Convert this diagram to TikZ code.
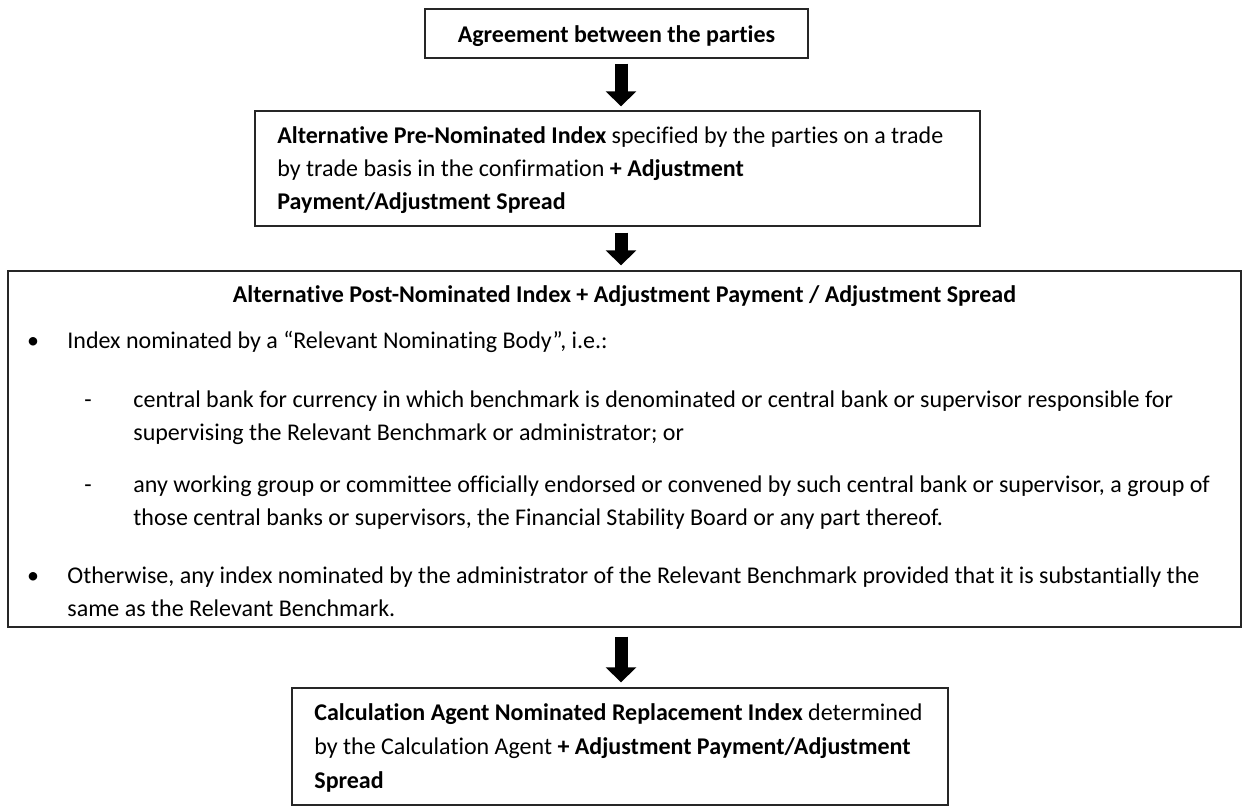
\documentclass[tikz,border=0pt]{standalone}
\usepackage{fontspec}
\setmainfont{Carlito}[Ligatures=NoCommon]
\usepackage{tikz}
\usetikzlibrary{positioning}
\usetikzlibrary{calc,fit,arrows.meta}

\tikzset{
  box/.style={draw=black!85, line width=0.7pt, inner sep=0pt},
  txt/.style={inner sep=0pt, align=flush left, anchor=base west,
    font={\fontsize{12}{16.5}\selectfont}},
  downarrow/.style={line width=6.5pt, -{Triangle[width=15pt,length=7.5pt]}}
}

\begin{document}
\begin{tikzpicture}[x=0.5pt, y=-0.5pt]
      \useasboundingbox (0,0) rectangle (1248,807);
      % boxes
      \node(agree) [box, fit={(425,9)(808,58)}] {};
      \node(pre) [box, fit={(255,111)(980,226)}] {};
      \node(post) [box, fit={(8,271)(1241,627)}] {};
      \node(calc) [box, fit={(292,688)(948,805)}] {};

      % texts
      \node(agreetxt) [txt, anchor=base] at (616.5,43) {\textbf{Agreement between the parties}};
      \node(pretxt) [txt, text width=400pt] at (277,144) {\textbf{Alternative Pre-Nominated Index} specified by the parties on a trade\\
        by trade basis in the confirmation \textbf{+ Adjustment}\\
        \textbf{Payment/Adjustment Spread}};
      \node(posthead) [txt, anchor=base] at (624.5,303) {\textbf{Alternative Post-Nominated Index + Adjustment Payment / Adjustment Spread}};
      \node(bul1) [txt, anchor=base] at (33,349) {\textbullet};
      \node(item1) [txt, text width=600pt] at (67,349) {Index nominated by a “Relevant Nominating Body”, i.e.:};
      \node(dash1) [txt, anchor=base] at (88,408) {-};
      \node(sub1) [txt, text width=600pt] at (133,408) {central bank for currency in which benchmark is denominated or central bank or supervisor responsible for\\
        supervising the Relevant Benchmark or administrator; or};
      \node(dash2) [txt, anchor=base] at (88,493) {-};
      \node(sub2) [txt, text width=600pt] at (133,493) {any working group or committee officially endorsed or convened by such central bank or supervisor, a group of\\
        those central banks or supervisors, the Financial Stability Board or any part thereof.};
      \node(bul2) [txt, anchor=base] at (33,583) {\textbullet};
      \node(item2) [txt, text width=600pt] at (67,583) {Otherwise, any index nominated by the administrator of the Relevant Benchmark provided that it is substantially the\\
        same as the Relevant Benchmark.};
      \node(calctxt) [txt, text width=340pt, font={\fontsize{12}{17}\selectfont}] at (314,720) {\textbf{Calculation Agent Nominated Replacement Index} determined\\
        by the Calculation Agent \textbf{+ Adjustment Payment/Adjustment}\\
        \textbf{Spread}};

      % arrows
      \coordinate(axis) at (621,0);
      \draw[downarrow] ($(agree.south -| axis)+(0,5)$) -- ($(pre.north -| axis)+(0,-4)$);
      \draw[downarrow] ($(pre.south -| axis)+(0,6)$) -- ($(post.north -| axis)+(0,-5)$);
      \draw[downarrow] ($(post.south -| axis)+(0,9)$) -- ($(calc.north -| axis)+(0,-5)$);
    \end{tikzpicture}
\end{document}
